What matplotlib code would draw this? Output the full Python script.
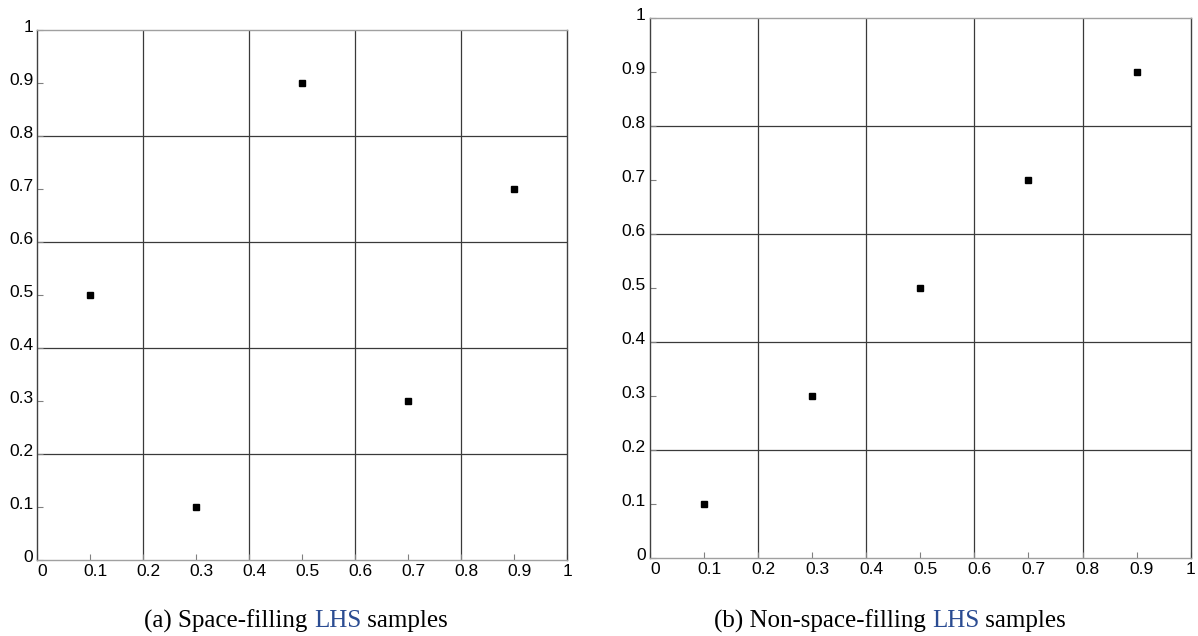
import matplotlib.pyplot as plt
import matplotlib.transforms as mtransforms
import numpy as np

# sample coordinates for the two designs
space_x = [0.1, 0.3, 0.5, 0.7, 0.9]
space_y = [0.5, 0.1, 0.9, 0.3, 0.7]
nonspace_x = [0.1, 0.3, 0.5, 0.7, 0.9]
nonspace_y = [0.1, 0.3, 0.5, 0.7, 0.9]
tick_vals = [0, 0.1, 0.2, 0.3, 0.4, 0.5, 0.6, 0.7, 0.8, 0.9, 1]
tick_labels = ["0", "0.1", "0.2", "0.3", "0.4", "0.5", "0.6", "0.7", "0.8", "0.9", "1"]
grid_vals = [0.2, 0.4, 0.6, 0.8]

W, H = 1198, 636
fig = plt.figure(figsize=(W / 100, H / 100), dpi=100)


def px_axes(x0, y0, x1, y1):
    # axes box given in pixel coordinates from the top-left corner
    return fig.add_axes([x0 / W, 1 - y1 / H, (x1 - x0) / W, (y1 - y0) / H])


def draw_panel(ax, xs, ys):
    for g in grid_vals:
        ax.axvline(g, color="#3a3a3a", lw=0.9, zorder=1)
        ax.axhline(g, color="#3a3a3a", lw=0.9, zorder=1)
    ax.plot(xs, ys, "s", color="black", markersize=4.3, zorder=3)
    ax.set_xlim(0, 1)
    ax.set_ylim(0, 1)
    ax.set_xticks(tick_vals, tick_labels, fontsize=12.5, family="Liberation Sans")
    ax.set_yticks(tick_vals, tick_labels, fontsize=12.5, family="Liberation Sans")
    ax.tick_params(direction="in", length=4, width=0.8, color="#808080", pad=3)
    ax.spines["top"].set_color("#a0a0a0")
    ax.spines["bottom"].set_color("#a0a0a0")
    ax.spines["left"].set_color("#404040")
    ax.spines["right"].set_color("#404040")
    for s in ax.spines.values():
        s.set_linewidth(1.0)
    # decimal labels sit a little right of their ticks, the final "1" does not
    dx = mtransforms.ScaledTranslation(5 / 100, 0, fig.dpi_scale_trans)
    for lab in ax.get_xticklabels()[:-1]:
        lab.set_transform(lab.get_transform() + dx)
    dy = mtransforms.ScaledTranslation(0, 4 / 100, fig.dpi_scale_trans)
    for lab in ax.get_yticklabels():
        lab.set_transform(lab.get_transform() + dy)


ax1 = px_axes(37.3, 30, 567.3, 560)
draw_panel(ax1, space_x, space_y)
ax2 = px_axes(650, 17.7, 1190.7, 557.7)
draw_panel(ax2, nonspace_x, nonspace_y)

# captions with the acronym in blue
blue = "#2b4c92"
serif = "Liberation Serif"
for cx, pre in [(296, "(a) Space-filling "), (890, "(b) Non-space-filling ")]:
    parts = [(pre, "black"), ("LHS", blue), (" samples", "black")]
    texts = []
    for s, c in parts:
        texts.append(fig.text(0, 1 - 621 / H, s, color=c, fontsize=18, family=serif, va="center"))
    fig.canvas.draw()
    r = fig.canvas.get_renderer()
    widths = [t.get_window_extent(r).width for t in texts]
    x = cx - sum(widths) / 2
    for t, w in zip(texts, widths):
        t.set_x(x / W)
        x += w

fig.savefig("out.png", dpi=100)
